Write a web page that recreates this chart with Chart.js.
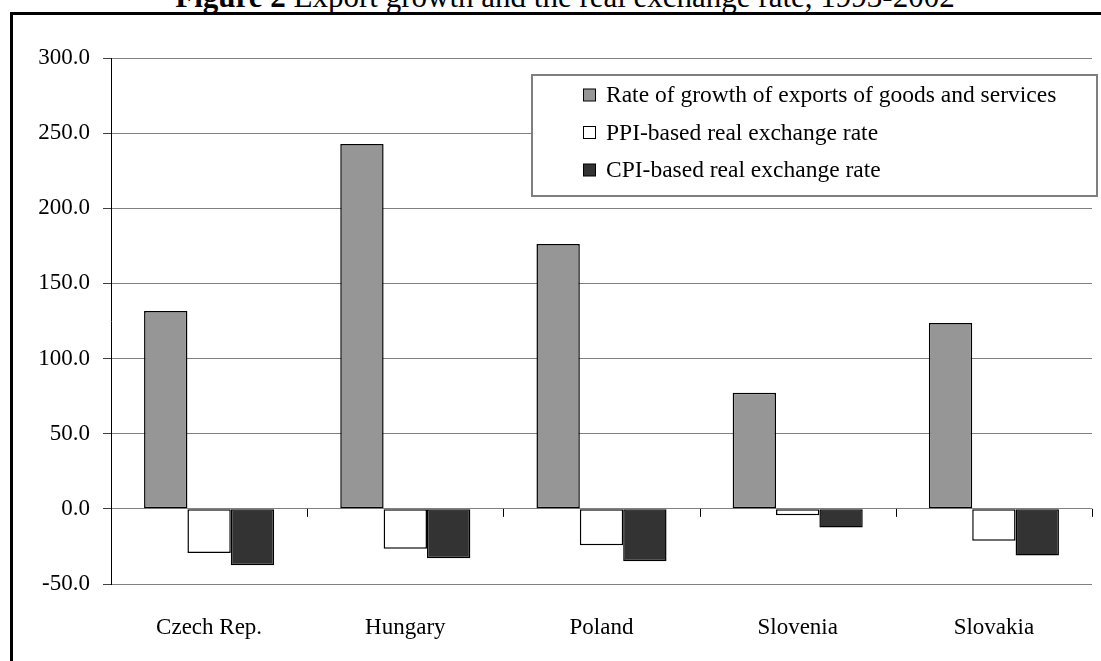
<!DOCTYPE html>
<html>
<head>
<meta charset="utf-8">
<script src="https://cdn.jsdelivr.net/npm/chart.js@4.4.1/dist/chart.umd.min.js"></script>
<style>
  html, body { margin: 0; padding: 0; background: #fff; overflow: hidden; }
  #wrap { position: relative; width: 1101px; height: 661px; overflow: hidden; }
  #frame { position: absolute; left: 10px; top: 12px; width: 1200px; height: 800px;
           border-left: 3px solid #000; border-top: 3px solid #000; }
  #title { position: absolute; left: 0; width: 1130px; top: -19px; text-align: center;
           font: 31px 'Liberation Serif', serif; line-height: 31px; color: #000; white-space: nowrap; }
  #chart { position: absolute; left: 0; top: 0; }
</style>
</head>
<body>
<div id="wrap">
  <div id="frame"></div>
  <div id="title"><b>Figure 2</b> Export growth and the real exchange rate, 1993-2002</div>
  <canvas id="chart" width="1101" height="661"></canvas>
</div>
<script>
// data
const countries = ['Czech Rep.', 'Hungary', 'Poland', 'Slovenia', 'Slovakia'];
const exportGrowth = [131.6, 242.8, 176.2, 77.2, 123.6];
const ppiRate = [-29.3, -26.6, -24.2, -4.2, -21.3];
const cpiRate = [-37.5, -32.8, -34.8, -12.4, -31.0];
const seriesNames = [
    'Rate of growth of exports of goods and services',
    'PPI-based real exchange rate',
    'CPI-based real exchange rate'
];
const yMin = -50, yMax = 300, yStep = 50;

Chart.defaults.font.family = "'Liberation Serif', serif";
Chart.defaults.color = '#000';

// little ticks on the zero line between the country groups
const zeroTicks = {
    id: 'zeroTicks',
    afterDatasetsDraw(chart) {
        const ctx = chart.ctx, x = chart.scales.x, y = chart.scales.y;
        const y0 = y.getPixelForValue(0);
        const marks = [chart.chartArea.left, chart.chartArea.right];
        for (let i = 1; i < countries.length; i++) {
            marks.push((x.getPixelForValue(i - 1) + x.getPixelForValue(i)) / 2);
        }
        ctx.save();
        ctx.strokeStyle = '#000';
        ctx.lineWidth = 1;
        marks.forEach(m => {
            const px = Math.round(m) + 0.5;
            ctx.beginPath();
            ctx.moveTo(px, y0);
            ctx.lineTo(px, y0 + 8);
            ctx.stroke();
        });
        ctx.restore();
    }
};

// boxed legend in the upper right
const boxLegend = {
    id: 'boxLegend',
    afterDraw(chart) {
        const ctx = chart.ctx;
        const bx = 532, by = 75, bw = 565, bh = 121;
        ctx.save();
        ctx.fillStyle = '#fff';
        ctx.fillRect(bx, by, bw, bh);
        ctx.strokeStyle = '#7f7f7f';
        ctx.lineWidth = 2;
        ctx.strokeRect(bx, by, bw, bh);
        ctx.font = "23.5px 'Liberation Serif'";
        ctx.textBaseline = 'middle';
        chart.data.datasets.forEach((ds, i) => {
            const cy = 95 + i * 37.5;
            ctx.fillStyle = ds.backgroundColor;
            ctx.fillRect(583.5, cy - 6, 12, 12);
            ctx.strokeStyle = '#000';
            ctx.lineWidth = 1;
            ctx.strokeRect(583.5, cy - 6, 12, 12);
            ctx.fillStyle = '#000';
            ctx.fillText(ds.label, 606, cy + 1);
        });
        ctx.restore();
    }
};

new Chart(document.getElementById('chart'), {
    type: 'bar',
    data: {
        labels: countries,
        datasets: [
            { label: seriesNames[0], data: exportGrowth, backgroundColor: '#969696' },
            { label: seriesNames[1], data: ppiRate, backgroundColor: '#ffffff' },
            { label: seriesNames[2], data: cpiRate, backgroundColor: '#333333' }
        ].map(d => Object.assign(d, {
            borderColor: '#000', borderWidth: 1.5, borderSkipped: false,
            categoryPercentage: 0.663, barPercentage: 1.0
        }))
    },
    options: {
        responsive: false,
        animation: false,
        devicePixelRatio: 1,
        layout: { padding: { top: 58, right: 9, left: 0, bottom: 0 } },
        plugins: { legend: { display: false }, tooltip: { enabled: false } },
        scales: {
            x: {
                grid: { display: false, drawTicks: false },
                border: { display: false },
                ticks: { font: { size: 23 }, padding: 30, color: '#000' },
                afterFit(s) { s.height = 77; }
            },
            y: {
                min: yMin, max: yMax,
                grid: { color: '#808080', lineWidth: 1, tickLength: 8, tickColor: '#404040' },
                border: { color: '#000', width: 1 },
                ticks: {
                    stepSize: yStep, padding: 13, font: { size: 23 }, color: '#000',
                    callback: v => v.toFixed(1)
                },
                afterFit(s) { s.width = 111; }
            }
        }
    },
    plugins: [zeroTicks, boxLegend]
});
</script>
</body>
</html>
